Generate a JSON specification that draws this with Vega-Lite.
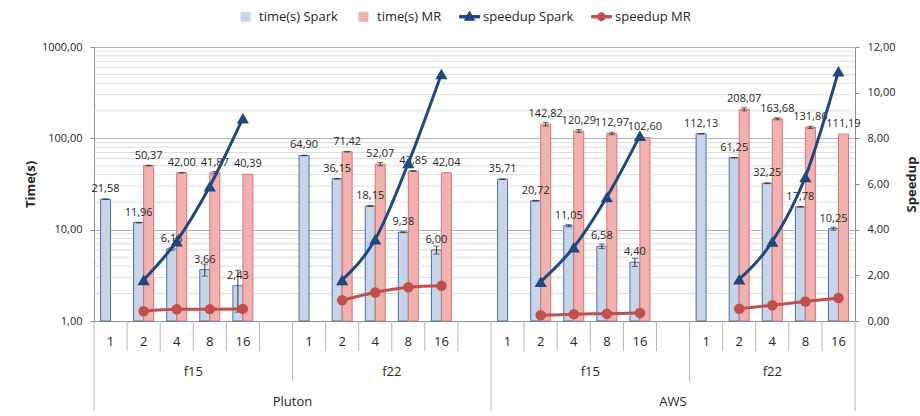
{
  "$schema": "https://vega.github.io/schema/vega-lite/v6.json",
  "background": "white",
  "padding": {"left": 24, "top": 6, "right": 2, "bottom": 4},
  "spacing": 0,
  "bounds": "flush",
  "config": {
    "font": "Open Sans",
    "locale": {"number": {"decimal": ",", "thousands": ".", "grouping": [3], "currency": ["", " €"]}},
    "view": {"stroke": null},
    "axis": {"labelColor": "#262626", "titleColor": "#262626", "domainColor": "#8c8c8c", "tickColor": "#8c8c8c", "labelFontSize": 11, "titleFontSize": 13, "titleFontWeight": "bold"}
  },
  "datasets": {
    "bars": [
      {"slot": "P15-1", "series": "time(s) Spark", "value": 21.58, "lo": 21.4, "hi": 21.76},
      {"slot": "P15-2", "series": "time(s) Spark", "value": 11.96, "lo": 11.85, "hi": 12.07},
      {"slot": "P15-4", "series": "time(s) Spark", "value": 6.16, "lo": 5.95, "hi": 6.37},
      {"slot": "P15-8", "series": "time(s) Spark", "value": 3.66, "lo": 3.1, "hi": 4.2},
      {"slot": "P15-16", "series": "time(s) Spark", "value": 2.43, "lo": 1.25, "hi": 3.6},
      {"slot": "P15-2", "series": "time(s) MR", "value": 50.37, "lo": 49.9, "hi": 50.8},
      {"slot": "P15-4", "series": "time(s) MR", "value": 42.0, "lo": 41.7, "hi": 42.3},
      {"slot": "P15-8", "series": "time(s) MR", "value": 41.87, "lo": 40.5, "hi": 43.3},
      {"slot": "P15-16", "series": "time(s) MR", "value": 40.39, "lo": null, "hi": null},
      {"slot": "P22-1", "series": "time(s) Spark", "value": 64.9, "lo": 64.5, "hi": 65.3},
      {"slot": "P22-2", "series": "time(s) Spark", "value": 36.15, "lo": 35.8, "hi": 36.5},
      {"slot": "P22-4", "series": "time(s) Spark", "value": 18.15, "lo": 17.95, "hi": 18.35},
      {"slot": "P22-8", "series": "time(s) Spark", "value": 9.38, "lo": 9.28, "hi": 9.48},
      {"slot": "P22-16", "series": "time(s) Spark", "value": 6.0, "lo": 5.4, "hi": 6.6},
      {"slot": "P22-2", "series": "time(s) MR", "value": 71.42, "lo": 70.8, "hi": 72.0},
      {"slot": "P22-4", "series": "time(s) MR", "value": 52.07, "lo": 49.9, "hi": 54.2},
      {"slot": "P22-8", "series": "time(s) MR", "value": 43.85, "lo": 43.4, "hi": 44.3},
      {"slot": "P22-16", "series": "time(s) MR", "value": 42.04, "lo": null, "hi": null},
      {"slot": "A15-1", "series": "time(s) Spark", "value": 35.71, "lo": 35.4, "hi": 36.0},
      {"slot": "A15-2", "series": "time(s) Spark", "value": 20.72, "lo": 20.5, "hi": 20.94},
      {"slot": "A15-4", "series": "time(s) Spark", "value": 11.05, "lo": 10.75, "hi": 11.35},
      {"slot": "A15-8", "series": "time(s) Spark", "value": 6.58, "lo": 6.2, "hi": 6.95},
      {"slot": "A15-16", "series": "time(s) Spark", "value": 4.4, "lo": 3.95, "hi": 4.85},
      {"slot": "A15-2", "series": "time(s) MR", "value": 142.82, "lo": 136, "hi": 149.5},
      {"slot": "A15-4", "series": "time(s) MR", "value": 120.29, "lo": 115.5, "hi": 125},
      {"slot": "A15-8", "series": "time(s) MR", "value": 112.97, "lo": 109.5, "hi": 116.5},
      {"slot": "A15-16", "series": "time(s) MR", "value": 102.6, "lo": null, "hi": null},
      {"slot": "A22-1", "series": "time(s) Spark", "value": 112.13, "lo": 111.3, "hi": 113},
      {"slot": "A22-2", "series": "time(s) Spark", "value": 61.25, "lo": 60.8, "hi": 61.7},
      {"slot": "A22-4", "series": "time(s) Spark", "value": 32.25, "lo": 31.9, "hi": 32.6},
      {"slot": "A22-8", "series": "time(s) Spark", "value": 17.78, "lo": 17.6, "hi": 17.96},
      {"slot": "A22-16", "series": "time(s) Spark", "value": 10.25, "lo": 9.85, "hi": 10.65},
      {"slot": "A22-2", "series": "time(s) MR", "value": 208.07, "lo": 200, "hi": 216},
      {"slot": "A22-4", "series": "time(s) MR", "value": 163.68, "lo": 159.5, "hi": 168},
      {"slot": "A22-8", "series": "time(s) MR", "value": 131.86, "lo": 128, "hi": 135.7},
      {"slot": "A22-16", "series": "time(s) MR", "value": 111.19, "lo": null, "hi": null}
    ],
    "lines": [
      {"slot": "P15-2", "group": "P15", "series": "speedup Spark", "speedup": 1.80},
      {"slot": "P15-4", "group": "P15", "series": "speedup Spark", "speedup": 3.50},
      {"slot": "P15-8", "group": "P15", "series": "speedup Spark", "speedup": 5.90},
      {"slot": "P15-16", "group": "P15", "series": "speedup Spark", "speedup": 8.88},
      {"slot": "P15-2", "group": "P15", "series": "speedup MR", "speedup": 0.43},
      {"slot": "P15-4", "group": "P15", "series": "speedup MR", "speedup": 0.51},
      {"slot": "P15-8", "group": "P15", "series": "speedup MR", "speedup": 0.52},
      {"slot": "P15-16", "group": "P15", "series": "speedup MR", "speedup": 0.53},
      {"slot": "P22-2", "group": "P22", "series": "speedup Spark", "speedup": 1.80},
      {"slot": "P22-4", "group": "P22", "series": "speedup Spark", "speedup": 3.58},
      {"slot": "P22-8", "group": "P22", "series": "speedup Spark", "speedup": 6.92},
      {"slot": "P22-16", "group": "P22", "series": "speedup Spark", "speedup": 10.82},
      {"slot": "P22-2", "group": "P22", "series": "speedup MR", "speedup": 0.91},
      {"slot": "P22-4", "group": "P22", "series": "speedup MR", "speedup": 1.25},
      {"slot": "P22-8", "group": "P22", "series": "speedup MR", "speedup": 1.48},
      {"slot": "P22-16", "group": "P22", "series": "speedup MR", "speedup": 1.54},
      {"slot": "A15-2", "group": "A15", "series": "speedup Spark", "speedup": 1.72},
      {"slot": "A15-4", "group": "A15", "series": "speedup Spark", "speedup": 3.23},
      {"slot": "A15-8", "group": "A15", "series": "speedup Spark", "speedup": 5.43},
      {"slot": "A15-16", "group": "A15", "series": "speedup Spark", "speedup": 8.12},
      {"slot": "A15-2", "group": "A15", "series": "speedup MR", "speedup": 0.25},
      {"slot": "A15-4", "group": "A15", "series": "speedup MR", "speedup": 0.30},
      {"slot": "A15-8", "group": "A15", "series": "speedup MR", "speedup": 0.32},
      {"slot": "A15-16", "group": "A15", "series": "speedup MR", "speedup": 0.35},
      {"slot": "A22-2", "group": "A22", "series": "speedup Spark", "speedup": 1.83},
      {"slot": "A22-4", "group": "A22", "series": "speedup Spark", "speedup": 3.48},
      {"slot": "A22-8", "group": "A22", "series": "speedup Spark", "speedup": 6.31},
      {"slot": "A22-16", "group": "A22", "series": "speedup Spark", "speedup": 10.94},
      {"slot": "A22-2", "group": "A22", "series": "speedup MR", "speedup": 0.54},
      {"slot": "A22-4", "group": "A22", "series": "speedup MR", "speedup": 0.69},
      {"slot": "A22-8", "group": "A22", "series": "speedup MR", "speedup": 0.85},
      {"slot": "A22-16", "group": "A22", "series": "speedup MR", "speedup": 1.01}
    ],
    "minorgrid": [
      {"v": 2}, {"v": 3}, {"v": 4}, {"v": 5}, {"v": 6}, {"v": 7}, {"v": 8}, {"v": 9},
      {"v": 20}, {"v": 30}, {"v": 40}, {"v": 50}, {"v": 60}, {"v": 70}, {"v": 80}, {"v": 90},
      {"v": 200}, {"v": 300}, {"v": 400}, {"v": 500}, {"v": 600}, {"v": 700}, {"v": 800}, {"v": 900}
    ],
    "seps": [
      {"slot": "P15-1", "depth": 3}, {"slot": "P15-2", "depth": 1}, {"slot": "P15-4", "depth": 1}, {"slot": "P15-8", "depth": 1}, {"slot": "P15-16", "depth": 1}, {"slot": "P15-g", "depth": 1},
      {"slot": "P22-1", "depth": 2}, {"slot": "P22-2", "depth": 1}, {"slot": "P22-4", "depth": 1}, {"slot": "P22-8", "depth": 1}, {"slot": "P22-16", "depth": 1}, {"slot": "P22-g", "depth": 1},
      {"slot": "A15-1", "depth": 3}, {"slot": "A15-2", "depth": 1}, {"slot": "A15-4", "depth": 1}, {"slot": "A15-8", "depth": 1}, {"slot": "A15-16", "depth": 1}, {"slot": "A15-g", "depth": 1},
      {"slot": "A22-1", "depth": 2}, {"slot": "A22-2", "depth": 1}, {"slot": "A22-4", "depth": 1}, {"slot": "A22-8", "depth": 1}, {"slot": "A22-16", "depth": 1}
    ],
    "endsep": [{"slot": "A22-16", "depth": 3}],
    "hlabels": [
      {"slot": "P15-1", "level": "cores", "text": "1", "anchor": "center"},
      {"slot": "P15-2", "level": "cores", "text": "2", "anchor": "center"},
      {"slot": "P15-4", "level": "cores", "text": "4", "anchor": "center"},
      {"slot": "P15-8", "level": "cores", "text": "8", "anchor": "center"},
      {"slot": "P15-16", "level": "cores", "text": "16", "anchor": "center"},
      {"slot": "P22-1", "level": "cores", "text": "1", "anchor": "center"},
      {"slot": "P22-2", "level": "cores", "text": "2", "anchor": "center"},
      {"slot": "P22-4", "level": "cores", "text": "4", "anchor": "center"},
      {"slot": "P22-8", "level": "cores", "text": "8", "anchor": "center"},
      {"slot": "P22-16", "level": "cores", "text": "16", "anchor": "center"},
      {"slot": "A15-1", "level": "cores", "text": "1", "anchor": "center"},
      {"slot": "A15-2", "level": "cores", "text": "2", "anchor": "center"},
      {"slot": "A15-4", "level": "cores", "text": "4", "anchor": "center"},
      {"slot": "A15-8", "level": "cores", "text": "8", "anchor": "center"},
      {"slot": "A15-16", "level": "cores", "text": "16", "anchor": "center"},
      {"slot": "A22-1", "level": "cores", "text": "1", "anchor": "center"},
      {"slot": "A22-2", "level": "cores", "text": "2", "anchor": "center"},
      {"slot": "A22-4", "level": "cores", "text": "4", "anchor": "center"},
      {"slot": "A22-8", "level": "cores", "text": "8", "anchor": "center"},
      {"slot": "A22-16", "level": "cores", "text": "16", "anchor": "center"},
      {"slot": "P15-8", "level": "dataset", "text": "f15", "anchor": "start"},
      {"slot": "P22-8", "level": "dataset", "text": "f22", "anchor": "start"},
      {"slot": "A15-8", "level": "dataset", "text": "f15", "anchor": "start"},
      {"slot": "A22-4", "level": "dataset", "text": "f22", "anchor": "center"},
      {"slot": "P22-1", "level": "site", "text": "Pluton", "anchor": "start"},
      {"slot": "A15-g", "level": "site", "text": "AWS", "anchor": "center"}
    ]
  },
  "vconcat": [
    {
      "width": 761,
      "height": 274,
      "layer": [
        {
          "layer": [
            {
              "data": {"name": "minorgrid"},
              "mark": {"type": "rule", "color": "#dcdcdc", "strokeWidth": 1},
              "encoding": {
                "y": {"field": "v", "type": "quantitative", "scale": {"type": "log", "domain": [1, 1000], "nice": false}}
              }
            },
            {
              "data": {"name": "bars"},
              "mark": {"type": "bar", "strokeWidth": 1},
              "encoding": {
                "x": {"field": "slot", "type": "nominal", "sort": null,
                  "scale": {"domain": ["P15-1","P15-2","P15-4","P15-8","P15-16","P15-g","P22-1","P22-2","P22-4","P22-8","P22-16","P22-g","A15-1","A15-2","A15-4","A15-8","A15-16","A15-g","A22-1","A22-2","A22-4","A22-8","A22-16"], "paddingInner": 0, "paddingOuter": 0},
                  "axis": {"title": null, "labels": false, "ticks": false, "grid": false, "domainColor": "#8c8c8c"}},
                "xOffset": {"field": "series", "type": "nominal", "scale": {"domain": ["time(s) Spark", "time(s) MR"], "paddingInner": 0, "paddingOuter": 0.654}},
                "y": {"field": "value", "type": "quantitative",
                  "scale": {"type": "log", "domain": [1, 1000], "nice": false},
                  "axis": {"title": "Time(s)", "values": [1, 10, 100, 1000], "format": ".2f", "grid": true, "gridColor": "#b5b5b5", "tickSize": 4, "labelPadding": 8, "titlePadding": 4}},
                "y2": {"datum": 1},
                "color": {"field": "series", "type": "nominal",
                  "scale": {"domain": ["time(s) Spark", "time(s) MR", "speedup Spark", "speedup MR"], "range": ["#c8d4e7", "#f0b1b0", "#1f497d", "#c0504d"]},
                  "legend": {"title": null, "orient": "none", "legendX": 141, "legendY": -41, "direction": "horizontal",
                    "labelFontSize": 13, "labelColor": "#262626", "symbolSize": 400, "columnPadding": 15, "labelOffset": 3,
                    "encode": {"symbols": {"update": {
                      "shape": {"signal": "datum.value == 'speedup Spark' ? 'M-1,-0.12H1V0.12H-1Z M0,-0.55L0.5,0.35H-0.5Z' : datum.value == 'speedup MR' ? 'M-1,-0.12H1V0.12H-1Z M0.4,0A0.4,0.4 0 1 1 -0.4,0A0.4,0.4 0 1 1 0.4,0Z' : 'M-0.45,-0.45H0.45V0.45H-0.45Z'"},
                      "fill": {"signal": "datum.value == 'time(s) Spark' ? '#c8d4e7' : datum.value == 'time(s) MR' ? '#f0b1b0' : datum.value == 'speedup Spark' ? '#1f497d' : '#c0504d'"},
                      "stroke": {"signal": "datum.value == 'time(s) Spark' ? '#4a6fa5' : datum.value == 'time(s) MR' ? '#d27674' : datum.value == 'speedup Spark' ? '#1f497d' : '#c0504d'"},
                      "strokeWidth": {"value": 1},
                      "opacity": {"value": 1}
                    }}}}},
                "stroke": {"field": "series", "type": "nominal", "scale": {"domain": ["time(s) Spark", "time(s) MR"], "range": ["#4a6fa5", "#d27674"]}, "legend": null}
              }
            },
            {
              "data": {"name": "bars"},
              "transform": [{"filter": "isValid(datum.lo)"}],
              "mark": {"type": "rule", "color": "#333333", "strokeWidth": 1},
              "encoding": {
                "x": {"field": "slot", "type": "nominal", "sort": null},
                "xOffset": {"field": "series", "type": "nominal"},
                "y": {"field": "lo", "type": "quantitative", "scale": {"type": "log", "domain": [1, 1000], "nice": false}},
                "y2": {"field": "hi"}
              }
            },
            {
              "data": {"name": "bars"},
              "transform": [{"filter": "isValid(datum.lo)"}],
              "mark": {"type": "tick", "color": "#333333", "thickness": 1, "size": 6},
              "encoding": {
                "x": {"field": "slot", "type": "nominal", "sort": null},
                "xOffset": {"field": "series", "type": "nominal"},
                "y": {"field": "lo", "type": "quantitative", "scale": {"type": "log", "domain": [1, 1000], "nice": false}}
              }
            },
            {
              "data": {"name": "bars"},
              "transform": [{"filter": "isValid(datum.lo)"}],
              "mark": {"type": "tick", "color": "#333333", "thickness": 1, "size": 6},
              "encoding": {
                "x": {"field": "slot", "type": "nominal", "sort": null},
                "xOffset": {"field": "series", "type": "nominal"},
                "y": {"field": "hi", "type": "quantitative", "scale": {"type": "log", "domain": [1, 1000], "nice": false}}
              }
            },
            {
              "data": {"name": "bars"},
              "mark": {"type": "text", "fontSize": 11, "baseline": "middle", "dy": -10, "color": "#262626"},
              "encoding": {
                "x": {"field": "slot", "type": "nominal", "sort": null},
                "xOffset": {"field": "series", "type": "nominal"},
                "y": {"field": "value", "type": "quantitative", "scale": {"type": "log", "domain": [1, 1000], "nice": false}},
                "text": {"field": "value", "type": "quantitative", "format": ".2f"}
              }
            }
          ]
        },
        {
          "layer": [
            {
              "data": {"name": "lines"},
              "mark": {"type": "line", "strokeWidth": 3, "interpolate": "monotone"},
              "encoding": {
                "x": {"field": "slot", "type": "nominal", "sort": null},
                "y": {"field": "speedup", "type": "quantitative",
                  "scale": {"domain": [0, 12], "nice": false},
                  "axis": {"title": "Speedup", "orient": "right", "values": [0, 2, 4, 6, 8, 10, 12], "format": ".2f", "grid": false, "tickSize": 4, "labelPadding": 8, "titleAngle": 270, "titleX": 56, "titleY": 137, "titleAlign": "center", "titleBaseline": "middle"}},
                "color": {"field": "series", "type": "nominal"},
                "detail": {"field": "group"}
              }
            },
            {
              "data": {"name": "lines"},
              "mark": {"type": "point", "filled": true, "opacity": 1},
              "encoding": {
                "x": {"field": "slot", "type": "nominal", "sort": null},
                "y": {"field": "speedup", "type": "quantitative", "scale": {"domain": [0, 12], "nice": false}},
                "color": {"field": "series", "type": "nominal"},
                "shape": {"field": "series", "type": "nominal", "scale": {"domain": ["speedup Spark", "speedup MR"], "range": ["triangle-up", "circle"]}, "legend": null},
                "size": {"field": "series", "type": "nominal", "scale": {"domain": ["speedup Spark", "speedup MR"], "range": [150, 110]}, "legend": null}
              }
            }
          ]
        }
      ],
      "resolve": {"scale": {"y": "independent"}}
    },
    {
      "width": 761,
      "height": 90,
      "layer": [
        {
          "data": {"name": "seps"},
          "mark": {"type": "rule", "color": "#b5b5b5", "strokeWidth": 1},
          "encoding": {
            "x": {"field": "slot", "type": "nominal", "sort": null, "bandPosition": 0,
              "scale": {"domain": ["P15-1","P15-2","P15-4","P15-8","P15-16","P15-g","P22-1","P22-2","P22-4","P22-8","P22-16","P22-g","A15-1","A15-2","A15-4","A15-8","A15-16","A15-g","A22-1","A22-2","A22-4","A22-8","A22-16"], "paddingInner": 0, "paddingOuter": 0},
              "axis": null},
            "y": {"field": "depth", "type": "quantitative", "scale": {"domain": [0, 3], "reverse": true, "nice": false, "zero": false}, "axis": null},
            "y2": {"datum": 0}
          }
        },
        {
          "data": {"name": "endsep"},
          "mark": {"type": "rule", "color": "#b5b5b5", "strokeWidth": 1},
          "encoding": {
            "x": {"field": "slot", "type": "nominal", "sort": null, "bandPosition": 1},
            "y": {"field": "depth", "type": "quantitative", "scale": {"domain": [0, 3], "reverse": true, "nice": false, "zero": false}, "axis": null},
            "y2": {"datum": 0}
          }
        },
        {
          "data": {"name": "hlabels"},
          "transform": [{"filter": "datum.anchor == 'center'"}],
          "mark": {"type": "text", "fontSize": 13, "baseline": "middle", "dy": 6, "color": "#262626"},
          "encoding": {
            "x": {"field": "slot", "type": "nominal", "sort": null, "bandPosition": 0.5},
            "y": {"field": "level", "type": "nominal", "scale": {"domain": ["cores", "dataset", "site"], "paddingInner": 0, "paddingOuter": 0}, "axis": null},
            "text": {"field": "text"}
          }
        },
        {
          "data": {"name": "hlabels"},
          "transform": [{"filter": "datum.anchor == 'start'"}],
          "mark": {"type": "text", "fontSize": 13, "baseline": "middle", "dy": 6, "color": "#262626"},
          "encoding": {
            "x": {"field": "slot", "type": "nominal", "sort": null, "bandPosition": 0},
            "y": {"field": "level", "type": "nominal", "scale": {"domain": ["cores", "dataset", "site"], "paddingInner": 0, "paddingOuter": 0}, "axis": null},
            "text": {"field": "text"}
          }
        }
      ],
      "resolve": {"scale": {"y": "independent"}}
    }
  ]
}
